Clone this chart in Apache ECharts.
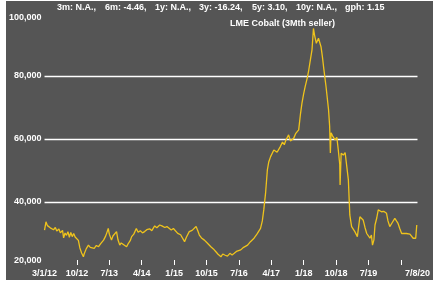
<!DOCTYPE html>
<html><head><meta charset="utf-8">
<script src="https://cdn.jsdelivr.net/npm/echarts@6/dist/echarts.min.js"></script>
<style>
html,body{margin:0;padding:0;background:#fff;width:445px;height:282px;overflow:hidden}
#c{position:absolute;left:6px;top:1px;width:427px;height:279px;background:#555555}
</style></head>
<body><div id="c"></div>
<script>
// x = months since 1/1/2012
const months = [0,0.4,0.8,1.2,1.6,2.1,2.5,3.0,3.4,4.0,4.4,5.0,5.3,5.7,6.1,6.5,6.9,7.3,7.7,8.1,8.5,9.0,9.4,9.8,10.3,10.8,11.0,11.3,11.6,11.8,12.2,12.7,13.2,13.8,14.4,15.0,15.6,16.4,16.9,17.3,17.7,18.0,18.6,19.0,19.3,20.0,20.4,20.9,21.3,21.8,22.8,23.3,23.8,24.2,24.8,25.5,26.0,26.6,27.2,27.8,28.4,29.2,29.8,30.6,31.2,32.0,32.6,33.4,34.0,35.2,35.8,37.0,37.8,38.9,39.4,40.2,41.0,42.1,42.6,43.0,43.6,44.4,45.0,46.2,46.9,47.6,48.2,49.0,49.5,50.2,50.8,51.5,52.1,52.7,53.3,54.5,55.3,56.4,57.2,58.2,59.0,60.0,60.5,60.9,61.4,61.9,62.3,62.8,63.7,64.6,65.5,66.1,66.6,67.0,67.8,68.3,69.2,69.8,70.6,71.1,71.5,72.0,72.4,73.0,73.4,73.9,74.3,74.7,75.0,75.5,76.1,76.8,77.2,77.5,78.2,78.9,79.2,79.4,79.6,80.0,80.7,81.2,81.6,82.0,82.1,82.4,83.0,83.5,83.9,84.4,84.8,85.3,85.8,86.2,86.9,87.6,88.0,88.5,89.0,89.5,90.4,90.8,91.1,91.5,91.8,92.3,92.7,93.6,94.3,95.0,95.4,95.9,96.6,97.3,97.8,98.2,98.7,99.2,100.5,101.5,102.0,102.4,103.1,103.4];
const prices = [31100,33700,32500,32900,31800,32300,31200,31900,30800,31400,30200,31000,28600,30150,29400,30600,28800,30300,29000,30000,28900,29500,27800,25500,23800,22600,23500,24000,25200,24800,26300,25600,26000,25300,26200,25800,26800,27900,29000,30200,31600,29800,27900,29200,29500,30600,28000,26300,27000,26600,25800,26900,27700,29000,29800,31600,30400,30900,30200,30600,31200,31500,30900,32400,31800,32700,32400,31900,32200,31100,31600,30050,29600,27400,28800,30600,31000,32200,30800,29500,28600,27900,27200,25800,25100,24200,23400,22600,23500,23100,22800,23700,23200,23700,24300,24800,25600,26300,27400,28500,29800,31600,34000,37500,42800,50200,52800,54400,56500,55800,57600,59000,58200,59500,61300,59400,60200,61800,62900,68000,71300,74500,76600,79500,81900,85500,88300,95100,93000,90400,92000,89300,86000,83000,76600,69200,64000,55600,62000,61000,59700,60500,56500,52000,45400,55500,54900,55700,55400,47000,35900,32200,32700,30600,29000,35300,34800,34300,32000,30000,28500,29500,26300,28000,32700,35000,37500,36900,37000,36400,34000,32200,33500,34800,33900,33200,31500,30000,30000,29800,29300,28500,28500,32700];
const yTicks = [20000,40000,60000,80000,100000];
const xLabelMonths = [0,9,18,27,36,45,54,63,72,81,90,103.6];
const xLabels = ['3/1/12','10/12','7/13','4/14','1/15','10/15','7/16','4/17','1/18','10/18','7/19','7/8/20'];
const xTickMonths = [9,18,27,36,45,54,63,72,81,90,99];
const headerItems = ['3m: N.A.,','6m: -4.46,','1y: N.A.,','3y: -16.24,','5y: 3.10,','10y: N.A.,','gph: 1.15'];
const headerX = [57,105,155,199,252,296,345];
const seriesName = 'LME Cobalt (3Mth seller)';

const ff = 'Liberation Sans, Arial, sans-serif';
const font = {fontFamily:ff,fontWeight:'bold',fontSize:9,color:'#ffffff'};
const chart = echarts.init(document.getElementById('c'));
const fmt = v => String(v).replace(/\B(?=(\d{3})+(?!\d))/g, ',');
const graphics = headerItems.map((t,i)=>({type:'text',left:headerX[i]-6,top:2,style:{text:t,fill:'#fff',font:'bold 9px '+ff}}));
graphics.push({type:'text',left:230-6,top:18,style:{text:seriesName,fill:'#fff',font:'bold 9px '+ff}});
const yMin = yTicks[0], yMax = yTicks[yTicks.length-1];
chart.setOption({
  animation:false,
  graphic:graphics,
  grid:{left:36.4,right:15,top:12,bottom:15},
  xAxis:{type:'value',min:0,max:103.6,
    axisLine:{show:false},
    splitLine:{show:false},
    axisTick:{show:true,inside:true,length:5,lineStyle:{color:'#fff',width:1},customValues:xTickMonths},
    axisLabel:Object.assign({margin:4,customValues:xLabelMonths,formatter:v=>{const i=xLabelMonths.findIndex(m=>Math.abs(m-v)<0.01);return i>=0?xLabels[i]:'';}},font)
  },
  yAxis:{type:'value',min:yMin,max:yMax,interval:20000,
    axisLine:{show:false},axisTick:{show:false},
    splitLine:{show:true,showMinLine:false,showMaxLine:false,lineStyle:{color:'#ffffff',width:1.3}},
    axisLabel:Object.assign({margin:3,
      formatter:v=> v===yMax ? '{hi|'+fmt(v)+'}' : v===yMin ? '{lo|'+fmt(v)+'}' : fmt(v),
      rich:{hi:Object.assign({padding:[10,0,0,0]},font),lo:Object.assign({padding:[0,0,8,0]},font)}
    },font)
  },
  series:[{type:'line',name:seriesName,data:months.map((m,i)=>[m,prices[i]]),showSymbol:false,
    lineStyle:{color:'#efc31c',width:1.3}}]
});
</script></body></html>
